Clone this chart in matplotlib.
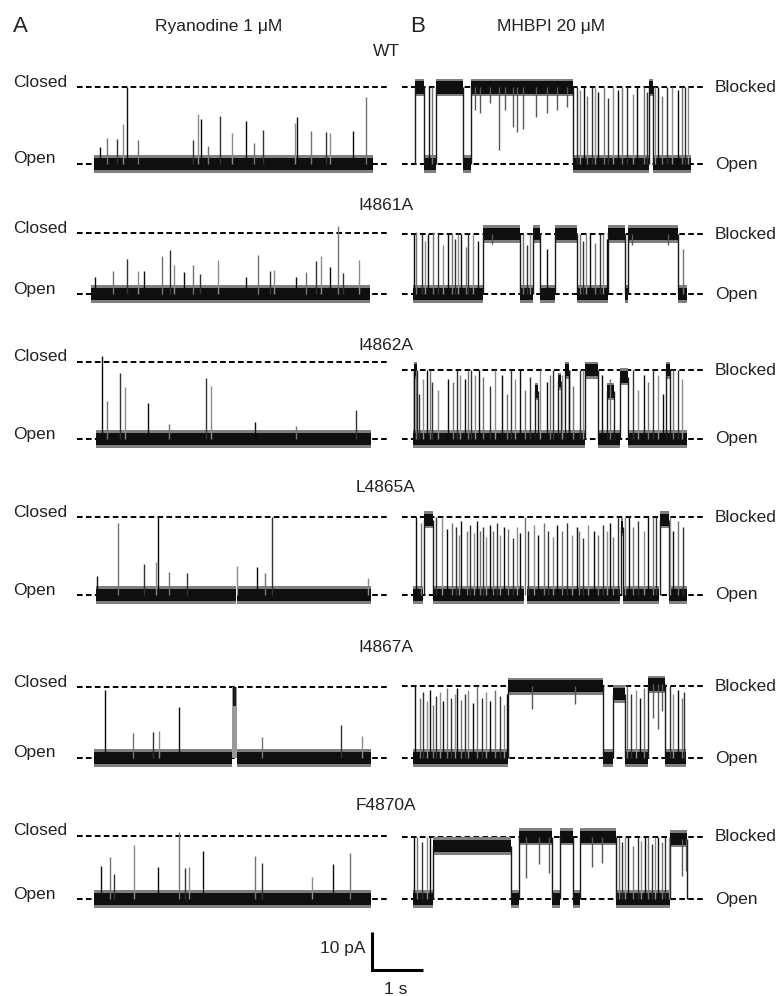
import numpy as np
import matplotlib.pyplot as plt

plt.rcParams['font.family'] = ['Liberation Sans', 'DejaVu Sans']

W, H = 781, 996
PX_PER_S = 51.0     # 1 s scale bar
PX_PER_PA = 3.77    # 10 pA scale bar

mutants = ["WT", "I4861A", "I4862A", "L4865A", "I4867A", "F4870A"]

# current step open -> closed (ryanodine) and open -> blocked (MHBPI), pA
closed_amp = [20.3, 16.1, 20.5, 20.6, 18.8, 16.8]
blocked_amp = [20.3, 15.9, 18.2, 20.6, 19.0, 16.5]

# ---- Ryanodine 1 uM (panel A) ----
ryr_open = [
    [(0.0, 5.47)],
    [(-0.05, 5.41)],
    [(0.03, 5.43)],
    [(0.03, 2.79), (2.81, 5.43)],
    [(0.0, 2.71), (2.81, 5.43)],
    [(0.0, 5.43)],
]
ryr_burst = [[], [], [], [], [(2.71, 2.80)], []]
# brief closures (time s, amplitude pA)
ryr_spikes = [
    [(0.12, 4.6), (0.25, 6.8), (0.46, 6.5), (0.56, 10.6), (0.65, 20.3), (0.86, 6.4),
     (1.95, 6.4), (2.03, 13.3), (2.10, 11.9), (2.23, 4.8), (2.47, 12.6), (2.71, 8.1),
     (2.99, 11.4), (3.14, 5.5), (3.32, 9.0), (3.94, 11.0), (3.99, 12.4), (4.25, 8.8),
     (4.55, 8.6), (4.63, 8.3), (5.07, 8.8), (5.33, 17.7)],
    [(0.01, 4.4), (0.37, 6.1), (0.65, 9.3), (0.87, 6.1), (0.98, 6.1), (1.34, 10.1),
     (1.50, 11.7), (1.57, 7.7), (1.76, 5.9), (1.94, 7.8), (2.08, 5.3), (2.43, 8.9),
     (2.99, 4.5), (3.22, 10.3), (3.46, 6.1), (3.52, 6.4), (3.96, 4.4), (4.15, 5.9),
     (4.35, 8.7), (4.46, 10.1), (4.63, 7.2), (4.78, 18.0), (4.89, 5.6), (5.20, 8.9)],
    [(0.15, 22.1), (0.25, 10.2), (0.51, 17.5), (0.61, 13.7), (1.05, 9.5), (1.47, 4.0),
     (2.19, 16.3), (2.30, 14.0), (3.16, 4.5), (3.97, 3.5), (5.13, 7.6)],
    [(0.05, 5.0), (0.48, 19.2), (0.99, 8.2), (1.22, 8.8), (1.26, 20.8), (1.48, 6.2),
     (1.83, 5.8), (2.80, 7.7), (3.20, 7.3), (3.35, 5.8), (3.50, 20.6), (5.38, 4.4)],
    [(0.22, 18.0), (0.77, 6.6), (1.15, 6.9), (1.28, 7.2), (1.66, 13.5), (3.29, 5.6),
     (4.84, 8.7), (5.25, 5.8)],
    [(0.14, 8.8), (0.32, 11.1), (0.40, 6.7), (0.78, 14.4), (1.25, 8.5), (1.67, 17.9),
     (1.78, 8.2), (1.86, 8.5), (2.14, 12.8), (3.15, 11.3), (3.30, 9.5), (4.28, 5.8),
     (4.68, 9.4), (5.01, 12.2)],
]

# ---- MHBPI 20 uM (panel B) ----
mhb_open = [
    [(0.22, 0.45), (0.98, 1.13), (3.13, 4.62), (4.70, 5.45)],
    [(0.0, 1.38), (2.10, 2.36), (2.49, 2.78), (3.21, 3.83), (4.16, 4.22), (5.20, 5.37)],
    [(0.0, 3.37), (3.63, 4.06), (4.22, 5.37)],
    [(0.0, 0.20), (0.40, 2.17), (2.23, 4.05), (4.12, 4.83), (5.01, 5.37)],
    [(0.0, 1.87), (3.72, 3.93), (4.16, 4.61), (4.94, 5.35)],
    [(0.0, 0.40), (1.93, 2.07), (2.72, 2.88), (3.14, 3.27), (3.99, 5.04)],
]
# blocked dwells (start s, end s, level pA above open)
mhb_blocked = [
    [(0.03, 0.22, 20.3), (0.45, 0.98, 20.3), (1.13, 3.13, 20.3), (4.62, 4.70, 20.3)],
    [(1.38, 2.10, 15.9), (2.36, 2.49, 15.9), (2.78, 3.21, 15.9), (3.83, 4.16, 15.9),
     (4.22, 5.20, 15.9)],
    [(0.01, 0.07, 18.2), (2.40, 2.46, 12.6), (2.84, 2.90, 15.3), (2.98, 3.05, 18.2),
     (3.37, 3.63, 18.2), (3.80, 3.95, 12.6), (4.06, 4.22, 16.5), (4.97, 5.04, 18.2)],
    [(0.22, 0.40, 20.0), (4.07, 4.12, 18.0), (4.85, 5.01, 20.0)],
    [(1.87, 3.72, 19.0), (3.93, 4.16, 17.0), (4.61, 4.94, 19.5)],
    [(0.40, 1.93, 14.1), (2.07, 2.72, 16.5), (2.88, 3.14, 16.5), (3.27, 3.99, 16.5),
     (5.04, 5.38, 16.0)],
]
# brief blocking events from the open level (time s, amplitude pA)
mhb_events = [
    [(0.32, 20.3), (0.38, 20.3), (3.21, 20.3), (3.27, 19.5), (3.35, 20.3), (3.42, 18.0),
     (3.50, 20.3), (3.57, 20.8), (3.63, 19.0), (3.74, 20.3), (3.83, 17.5), (3.93, 20.3),
     (4.01, 19.5), (4.09, 20.3), (4.19, 20.3), (4.32, 18.5), (4.40, 20.3), (4.52, 20.3),
     (4.58, 19.0), (4.74, 20.3), (4.81, 20.3), (4.88, 18.0), (4.99, 20.3), (5.07, 20.3),
     (5.19, 19.5), (5.27, 20.3), (5.33, 20.3), (5.40, 20.3)],
    [(0.01, 15.9), (0.06, 16.5), (0.17, 15.9), (0.24, 14.0), (0.30, 15.9), (0.40, 16.5),
     (0.50, 15.9), (0.59, 13.0), (0.69, 15.9), (0.76, 15.9), (0.82, 14.5), (0.89, 15.9),
     (0.95, 15.9), (1.04, 12.5), (1.08, 15.9), (1.18, 15.9), (1.28, 14.0), (2.16, 15.9),
     (2.23, 13.0), (2.29, 15.9), (2.62, 12.0), (3.27, 15.9), (3.34, 14.0), (3.40, 15.9),
     (3.48, 15.9), (3.57, 13.5), (3.67, 15.9), (3.73, 15.9), (3.80, 14.5), (5.30, 12.0)],
    [(0.01, 18.2), (0.06, 18.2), (0.12, 12.0), (0.19, 16.0), (0.27, 18.2), (0.33, 18.2),
     (0.38, 15.0), (0.50, 13.0), (0.69, 16.0), (0.79, 15.0), (0.87, 18.2), (0.93, 17.0),
     (1.02, 16.0), (1.08, 18.2), (1.13, 18.2), (1.22, 17.0), (1.29, 18.2), (1.38, 16.5),
     (1.51, 14.0), (1.61, 18.2), (1.75, 17.0), (1.84, 12.0), (1.92, 18.2), (2.00, 16.0),
     (2.10, 18.2), (2.20, 13.0), (2.29, 16.5), (2.49, 18.2), (2.62, 15.0), (2.69, 17.0),
     (2.75, 18.2), (2.92, 17.0), (3.05, 18.2), (3.14, 14.0), (3.27, 18.2), (3.34, 18.2),
     (3.70, 17.0), (3.86, 16.0), (4.32, 18.2), (4.42, 13.0), (4.52, 17.0), (4.61, 15.0),
     (4.71, 18.2), (4.81, 17.0), (4.91, 12.0), (5.10, 18.2), (5.20, 18.2), (5.27, 16.0)],
    [(0.06, 20.6), (0.15, 19.0), (0.45, 20.6), (0.56, 20.6), (0.66, 17.5), (0.76, 19.0),
     (0.84, 18.0), (0.91, 16.0), (0.95, 19.5), (1.06, 17.0), (1.12, 18.5), (1.20, 16.5),
     (1.25, 19.5), (1.31, 17.0), (1.38, 18.0), (1.44, 15.5), (1.51, 18.5), (1.56, 17.0),
     (1.64, 19.0), (1.71, 16.0), (1.78, 18.0), (1.87, 17.5), (1.97, 15.0), (2.03, 18.0),
     (2.10, 16.5), (2.20, 20.6), (2.26, 17.0), (2.37, 18.5), (2.46, 16.0), (2.56, 19.0),
     (2.65, 17.0), (2.75, 15.5), (2.82, 18.5), (2.93, 17.0), (3.01, 19.0), (3.11, 16.0),
     (3.21, 18.0), (3.26, 17.0), (3.34, 15.0), (3.44, 18.5), (3.54, 17.0), (3.63, 16.0),
     (3.72, 18.5), (3.80, 17.0), (3.86, 19.0), (3.93, 15.5), (4.01, 20.6), (4.16, 20.6),
     (4.24, 20.6), (4.32, 18.0), (4.42, 19.5), (4.52, 17.0), (4.61, 20.6), (4.70, 20.6),
     (4.77, 20.6), (5.04, 20.6), (5.10, 17.0), (5.20, 19.5), (5.30, 18.0)],
    [(0.04, 19.0), (0.14, 16.0), (0.20, 17.5), (0.27, 15.0), (0.33, 18.0), (0.40, 14.0),
     (0.46, 16.5), (0.52, 17.5), (0.59, 15.0), (0.66, 18.5), (0.74, 16.0), (0.82, 17.0),
     (0.87, 18.5), (0.95, 15.5), (1.02, 17.0), (1.08, 18.0), (1.18, 14.5), (1.26, 19.0),
     (1.35, 16.0), (1.44, 17.5), (1.51, 15.0), (1.61, 18.0), (1.71, 16.5), (1.78, 14.0),
     (1.84, 17.0), (4.19, 19.0), (4.27, 17.0), (4.37, 18.0), (4.45, 16.0), (4.52, 18.5),
     (5.04, 19.0), (5.10, 17.0), (5.19, 18.0), (5.27, 16.0), (5.31, 17.5)],
    [(0.01, 16.5), (0.07, 16.5), (0.17, 15.0), (0.27, 16.5), (0.33, 16.5), (4.03, 16.5),
     (4.09, 15.0), (4.16, 16.5), (4.22, 16.5), (4.32, 14.0), (4.42, 16.5), (4.48, 15.5),
     (4.55, 16.5), (4.61, 16.5), (4.68, 14.5), (4.74, 16.5), (4.81, 16.5), (4.88, 15.0),
     (4.94, 16.5), (5.01, 16.5)],
]
# brief unblocking dips from a blocked dwell (time s, depth pA)
mhb_dips = [
    [(1.22, 6.0), (1.31, 6.9), (1.51, 4.2), (1.69, 16.6), (1.80, 6.0), (1.97, 10.4),
     (2.03, 11.8), (2.15, 10.9), (2.42, 7.8), (2.62, 6.9), (2.82, 6.0), (3.01, 5.1)],
    [(1.54, 2.7), (4.30, 3.0), (5.00, 3.0)],
    [],
    [],
    [(2.33, 5.9), (3.18, 4.6), (4.70, 9.0), (4.80, 11.7), (4.88, 7.0)],
    [(2.22, 10.8), (2.48, 7.2), (2.66, 9.5), (3.50, 8.0), (3.70, 7.0), (5.27, 10.0),
     (5.36, 8.5)],
]

# layout: pixel row of the open level in each row, label rows
OPEN_PX = [164, 294, 439, 595, 758, 899]
NAME_PX = [52, 206, 346, 487, 648, 806]
EV_COLORS = ['0.05', '0.45', '0.2', '0.55']
CORE, FRINGE = 1.6, 2.3
DASH = dict(color='k', lw=1.4, dashes=(2.9, 1.7), zorder=1)
TXT = dict(fontsize=12.5, color='#222222')


def fx(px):
    return px / W


def fy(py):
    return 1 - py / H


def band(ax, t0, t1, level):
    ax.fill_between([t0, t1], level - FRINGE, level + FRINGE, color='0.5', lw=0, zorder=2)
    ax.fill_between([t0, t1], level - CORE, level + CORE, color='0.06', lw=0, zorder=3)


fig = plt.figure(figsize=(W / 100, H / 100), dpi=100)
axA = fig.add_axes([0, 0, 395 / W, 1])
axB = fig.add_axes([395 / W, 0, 1 - 395 / W, 1])
axA.set_xlim(-94 / PX_PER_S, (395 - 94) / PX_PER_S)
axB.set_xlim(-18 / PX_PER_S, (781 - 413) / PX_PER_S)
for ax in (axA, axB):
    ax.set_ylim(-H / PX_PER_PA, 0)
    ax.axis('off')

for i, name in enumerate(mutants):
    base = -OPEN_PX[i] / PX_PER_PA

    # panel A: ryanodine
    amp = closed_amp[i]
    axA.plot([-0.33, 5.75], [base, base], **DASH)
    axA.plot([-0.33, 5.75], [base + amp, base + amp], **DASH)
    for t0, t1 in ryr_open[i]:
        band(axA, t0, t1, base)
    for t0, t1 in ryr_burst[i]:
        axA.fill_between([t0, t1], base, base + amp, color='0.6', lw=0, zorder=2)
        axA.fill_between([t0 + 0.01, t1 - 0.01], base + amp - 5, base + amp, color='0.1', lw=0, zorder=3)
    ts = [s[0] for s in ryr_spikes[i]]
    hs = [s[1] for s in ryr_spikes[i]]
    cols = [EV_COLORS[k % len(EV_COLORS)] for k in range(len(ts))]
    axA.vlines(ts, base, base + np.array(hs), colors=cols, lw=1.0, zorder=4)

    fig.text(fx(13), fy(OPEN_PX[i] - amp * PX_PER_PA - 5), "Closed", ha='left', va='center', **TXT)
    fig.text(fx(13), fy(OPEN_PX[i] - 5), "Open", ha='left', va='center', **TXT)

    # panel B: MHBPI
    bamp = blocked_amp[i]
    axB.plot([-0.22, 5.69], [base, base], **DASH)
    axB.plot([-0.22, 5.69], [base + bamp, base + bamp], **DASH)
    for t0, t1 in mhb_open[i]:
        band(axB, t0, t1, base)
    for t0, t1, lev in mhb_blocked[i]:
        band(axB, t0, t1, base + lev)
        axB.vlines([t0, t1], base, base + lev, colors='0.1', lw=1.0, zorder=4)
    ts = [e[0] for e in mhb_events[i]]
    hs = [e[1] for e in mhb_events[i]]
    cols = [EV_COLORS[k % len(EV_COLORS)] for k in range(len(ts))]
    axB.vlines(ts, base, base + np.array(hs), colors=cols, lw=1.0, zorder=4)
    for t, d in mhb_dips[i]:
        lev = [b[2] for b in mhb_blocked[i] if b[0] <= t <= b[1]]
        top = base + (lev[0] if lev else bamp)
        axB.vlines(t, top - d, top, colors='0.35', lw=1.0, zorder=4)

    fig.text(fx(715), fy(OPEN_PX[i] - bamp * PX_PER_PA), "Blocked", ha='left', va='center', **TXT)
    fig.text(fx(715), fy(OPEN_PX[i]), "Open", ha='left', va='center', **TXT)

    fig.text(fx(386), fy(NAME_PX[i]), name, ha='center', va='center', **TXT)

# headers
fig.text(fx(20), fy(27), "A", ha='center', va='center', fontsize=16, color='#222222')
fig.text(fx(219), fy(26), "Ryanodine 1 μM", ha='center', va='center', **TXT)
fig.text(fx(418), fy(27), "B", ha='center', va='center', fontsize=16, color='#222222')
fig.text(fx(551), fy(26), "MHBPI 20 μM", ha='center', va='center', **TXT)

# scale bar: 10 pA, 1 s
sb_t = (372 - 94) / PX_PER_S
sb_y = -970 / PX_PER_PA
axA.plot([sb_t, sb_t, sb_t + 1.0], [sb_y + 10, sb_y, sb_y], color='k', lw=2.2,
         solid_joinstyle='miter', solid_capstyle='butt', clip_on=False)
fig.text(fx(366), fy(948), "10 pA", ha='right', va='center', **TXT)
fig.text(fx(396), fy(989), "1 s", ha='center', va='center', **TXT)

fig.savefig("out.png", dpi=100, facecolor='white')
